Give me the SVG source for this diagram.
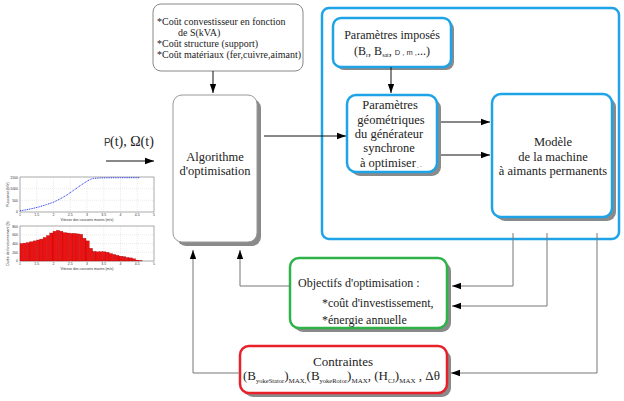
<svg xmlns="http://www.w3.org/2000/svg" width="624" height="401" viewBox="0 0 624 401">
<style>
.t{font-family:"Liberation Serif","Times New Roman",serif;fill:#222}
.s{font-family:"Liberation Sans",Arial,sans-serif;fill:#333}
.sh{fill:#8a8a8a}
.box{fill:#fff}
.ln{fill:none;stroke:#111;stroke-width:1}
.lg{fill:none;stroke:#777;stroke-width:1}
.grid{stroke:#bbb;stroke-width:0.3;stroke-dasharray:1 1}
.ax{fill:#fff;stroke:#555;stroke-width:0.5}
.bar{fill:#ee1111;stroke:#900;stroke-width:0.3}
.tk{font-family:"Liberation Sans",Arial,sans-serif;font-size:3.5px;fill:#333}
</style>
<defs>
<marker id="ah" viewBox="0 0 10 10" refX="10" refY="5" markerWidth="9" markerHeight="9" markerUnits="userSpaceOnUse" orient="auto">
<path d="M0,1.5 L10,5 L0,8.5 z" fill="#000"/>
</marker>
</defs>
<rect width="624" height="401" fill="#fff"/>

<!-- Big blue container -->
<g id="modele-container">
<rect x="322" y="8" width="297" height="231" rx="7" fill="none" stroke="#1ea3e6" stroke-width="2.5"/>
</g>

<!-- Cost text box -->
<g id="couts">
<rect x="153" y="4" width="150" height="67" rx="8" class="box" stroke="#888" stroke-width="1"/>
<text class="t" font-size="10" x="157" y="24.5">*Coût convestisseur en fonction</text>
<text class="t" font-size="10" x="178" y="35.5">de S(kVA)</text>
<text class="t" font-size="10" x="157" y="46.5">*Coût structure (support)</text>
<text class="t" font-size="10" x="157" y="57.5">*Coût matériaux (fer,cuivre,aimant)</text>
</g>

<!-- Algorithm box -->
<g id="algorithme">
<rect x="177" y="99" width="84" height="147" rx="9" class="sh"/>
<rect x="173" y="95" width="84" height="147" rx="9" class="box" stroke="#999" stroke-width="1"/>
<text class="t" font-size="12.5" x="215" y="160.5" text-anchor="middle">Algorithme</text>
<text class="t" font-size="12.5" x="215" y="175" text-anchor="middle">d'optimisation</text>
</g>

<!-- Paramètres imposés -->
<g id="parametres-imposes">
<rect x="336" y="21" width="118" height="49" rx="8" class="sh"/>
<rect x="333" y="18" width="118" height="49" rx="8" class="box" stroke="#1ea3e6" stroke-width="2.5"/>
<text class="t" font-size="12" x="392" y="39" text-anchor="middle">Paramètres imposés</text>
<text class="t" font-size="12" x="392" y="55" text-anchor="middle">(B<tspan font-size="6" dy="2">r</tspan><tspan dy="-2">, B</tspan><tspan font-size="6" dy="2">sat</tspan><tspan dy="-2">, </tspan><tspan class="s" font-size="7.5">D , m ,</tspan>...)</text>
</g>

<!-- Paramètres géométriques -->
<g id="parametres-geometriques">
<rect x="351" y="99" width="90" height="77" rx="9" class="sh"/>
<rect x="347" y="95" width="90" height="77" rx="9" class="box" stroke="#1ea3e6" stroke-width="2.5"/>
<text class="t" font-size="12.5" x="390" y="109" text-anchor="middle">Paramètres</text>
<text class="t" font-size="12.5" x="391" y="124" text-anchor="middle">géométriques</text>
<text class="t" font-size="12.5" x="389" y="138" text-anchor="middle">du générateur</text>
<text class="t" font-size="12.5" x="389" y="152" text-anchor="middle">synchrone</text>
<text class="t" font-size="12.5" x="391" y="166.5" text-anchor="middle">à optimiser<tspan font-size="5"> , ..</tspan></text>
</g>

<!-- Modèle -->
<g id="modele">
<rect x="496" y="98" width="120" height="123" rx="9" class="sh"/>
<rect x="492" y="94" width="120" height="123" rx="9" class="box" stroke="#1ea3e6" stroke-width="2.5"/>
<text class="t" font-size="12.5" x="553" y="146" text-anchor="middle">Modèle</text>
<text class="t" font-size="12.5" x="553" y="161" text-anchor="middle">de la machine</text>
<text class="t" font-size="12.5" x="553" y="175" text-anchor="middle">à aimants permanents</text>
</g>

<!-- Objectifs -->
<g id="objectifs">
<rect x="294" y="262" width="157" height="70" rx="9" class="sh"/>
<rect x="290" y="258" width="157" height="70" rx="9" class="box" stroke="#2db34a" stroke-width="2.5"/>
<text class="t" font-size="12" x="298" y="287">Objectifs d'optimisation :</text>
<text class="t" font-size="12" x="322" y="307">*coût d'investissement,</text>
<text class="t" font-size="12" x="322" y="324">*énergie annuelle</text>
</g>

<!-- Contraintes -->
<g id="contraintes">
<rect x="244" y="350" width="207" height="47" rx="9" class="sh"/>
<rect x="240" y="346" width="207" height="47" rx="9" class="box" stroke="#e8202a" stroke-width="2.5"/>
<text class="t" font-size="13" x="343" y="366" text-anchor="middle">Contraintes</text>
<text class="t" font-size="13" x="243" y="380">(B<tspan font-size="6.5" dy="3">yokeStator</tspan><tspan dy="-3">)</tspan><tspan font-size="7" dy="3">MAX,</tspan><tspan dy="-3">(B</tspan><tspan font-size="6.5" dy="3">yokeRotor</tspan><tspan dy="-3">)</tspan><tspan font-size="7" dy="3">MAX</tspan><tspan dy="-3">, (H</tspan><tspan font-size="6.5" dy="3">CJ</tspan><tspan dy="-3">)</tspan><tspan font-size="7" dy="3">MAX</tspan><tspan dy="-3"> , Δθ</tspan></text>
</g>

<!-- Input label -->
<g id="entree">
<text x="104" y="146"><tspan class="s" font-size="10">P</tspan><tspan class="t" font-size="14" x="110">(t), Ω(t)</tspan></text>
</g>

<!-- Connectors -->
<g id="connectors">
<line class="ln" x1="106" y1="161" x2="154" y2="161" marker-end="url(#ah)"/>
<line class="ln" x1="213" y1="71" x2="213" y2="93" marker-end="url(#ah)"/>
<line class="ln" x1="264" y1="136" x2="346" y2="136" marker-end="url(#ah)"/>
<line class="ln" x1="391" y1="67" x2="391" y2="93" marker-end="url(#ah)"/>
<line class="ln" x1="441" y1="122" x2="490" y2="122" marker-end="url(#ah)"/>
<line class="ln" x1="441" y1="155" x2="490" y2="155" marker-end="url(#ah)"/>
<polyline class="lg" points="513,233 513,286 452,286" marker-end="url(#ah)"/>
<polyline class="lg" points="547,233 547,306 452,306" marker-end="url(#ah)"/>
<polyline class="lg" points="597,233 597,373 451,373" marker-end="url(#ah)"/>
<polyline class="lg" points="290,286 240,286 240,250" marker-end="url(#ah)"/>
<polyline class="lg" points="240,373 193,373 193,250" marker-end="url(#ah)"/>
</g>

<!-- Charts (picture) -->
<g id="graphiques">
<rect class="ax" x="20" y="177" width="134" height="35"/>
<g class="grid">
<line x1="36.75" y1="177" x2="36.75" y2="212"/><line x1="53.5" y1="177" x2="53.5" y2="212"/><line x1="70.25" y1="177" x2="70.25" y2="212"/><line x1="87" y1="177" x2="87" y2="212"/><line x1="103.75" y1="177" x2="103.75" y2="212"/><line x1="120.5" y1="177" x2="120.5" y2="212"/><line x1="137.25" y1="177" x2="137.25" y2="212"/>
<line x1="20" y1="188.7" x2="154" y2="188.7"/><line x1="20" y1="200.3" x2="154" y2="200.3"/>
</g>
<polyline fill="none" stroke="#2233ee" stroke-width="1" stroke-dasharray="1 0.8" points="20,210.8 26.7,209.7 33.4,208.3 40.1,206.6 46.8,204.5 53.5,202.2 60.2,198.9 66.9,195 73.6,190.3 80.3,185.6 87,181.2 90.35,179.3 93.7,178.4 100.4,177.9 107.1,177.8 120.5,177.7 140,177.7"/>
<text class="tk" x="18" y="178.5" text-anchor="end">1500</text>
<text class="tk" x="18" y="190" text-anchor="end">1000</text>
<text class="tk" x="18" y="201.5" text-anchor="end">500</text>
<text class="tk" x="18" y="213" text-anchor="end">0</text>
<g class="tk" text-anchor="middle">
<text x="20" y="216">1</text><text x="36.75" y="216">1.5</text><text x="53.5" y="216">2</text><text x="70.25" y="216">2.5</text><text x="87" y="216">3</text><text x="103.75" y="216">3.5</text><text x="120.5" y="216">4</text><text x="137.25" y="216">4.5</text><text x="154" y="216">5</text>
</g>
<text class="tk" x="87" y="220.5" text-anchor="middle">Vitesse des courants marins (m/s)</text>
<text class="tk" transform="translate(9,194.5) rotate(-90)" text-anchor="middle">Puissance (kW)</text>

<rect class="ax" x="20" y="226" width="134" height="35"/>
<g class="grid">
<line x1="36.75" y1="226" x2="36.75" y2="261"/><line x1="53.5" y1="226" x2="53.5" y2="261"/><line x1="70.25" y1="226" x2="70.25" y2="261"/><line x1="87" y1="226" x2="87" y2="261"/><line x1="103.75" y1="226" x2="103.75" y2="261"/><line x1="120.5" y1="226" x2="120.5" y2="261"/><line x1="137.25" y1="226" x2="137.25" y2="261"/>
<line x1="20" y1="234.75" x2="154" y2="234.75"/><line x1="20" y1="243.5" x2="154" y2="243.5"/><line x1="20" y1="252.25" x2="154" y2="252.25"/>
</g>
<g class="bar">
<rect x="20" y="243.5" width="3.3" height="17.5"/>
<rect x="23.3" y="243.1" width="3.3" height="17.9"/>
<rect x="26.6" y="242.6" width="3.3" height="18.4"/>
<rect x="29.9" y="241.75" width="3.3" height="19.25"/>
<rect x="33.2" y="240.9" width="3.3" height="20.1"/>
<rect x="36.5" y="240" width="3.3" height="21"/>
<rect x="39.8" y="239.1" width="3.3" height="21.9"/>
<rect x="43.1" y="237.4" width="3.3" height="23.6"/>
<rect x="46.4" y="235.6" width="3.3" height="25.4"/>
<rect x="49.7" y="233" width="3.3" height="28"/>
<rect x="53" y="231.25" width="3.3" height="29.75"/>
<rect x="56.3" y="230.4" width="3.3" height="30.6"/>
<rect x="59.6" y="231.25" width="3.3" height="29.75"/>
<rect x="62.9" y="232.6" width="3.3" height="28.4"/>
<rect x="66.2" y="233" width="3.3" height="28"/>
<rect x="69.5" y="233.4" width="3.3" height="27.6"/>
<rect x="72.8" y="233.4" width="3.3" height="27.6"/>
<rect x="76.1" y="233.9" width="3.3" height="27.1"/>
<rect x="79.4" y="234.3" width="3.3" height="26.7"/>
<rect x="82.7" y="238.25" width="3.3" height="22.75"/>
<rect x="86" y="240.9" width="3.3" height="20.1"/>
<rect x="89.3" y="248.3" width="3.3" height="12.7"/>
<rect x="92.6" y="251.4" width="3.3" height="9.6"/>
<rect x="95.9" y="251.8" width="3.3" height="9.2"/>
<rect x="99.2" y="251.8" width="3.3" height="9.2"/>
<rect x="102.5" y="251.8" width="3.3" height="9.2"/>
<rect x="105.8" y="252.25" width="3.3" height="8.75"/>
<rect x="109.1" y="253.6" width="3.3" height="7.4"/>
<rect x="112.4" y="254.4" width="3.3" height="6.6"/>
<rect x="115.7" y="255.3" width="3.3" height="5.7"/>
<rect x="119" y="256.2" width="3.3" height="4.8"/>
<rect x="122.3" y="256.6" width="3.3" height="4.4"/>
<rect x="125.6" y="257.5" width="3.3" height="3.5"/>
<rect x="128.9" y="257.9" width="3.3" height="3.1"/>
<rect x="132.2" y="258.8" width="3.3" height="2.2"/>
<rect x="135.5" y="260.1" width="3.3" height="0.9"/>
<rect x="138.8" y="260.6" width="3.3" height="0.4"/>
</g>
<text class="tk" x="18" y="227.5" text-anchor="end">800</text>
<text class="tk" x="18" y="236" text-anchor="end">600</text>
<text class="tk" x="18" y="244.8" text-anchor="end">400</text>
<text class="tk" x="18" y="253.5" text-anchor="end">200</text>
<text class="tk" x="18" y="262" text-anchor="end">0</text>
<g class="tk" text-anchor="middle">
<text x="20" y="265">1</text><text x="36.75" y="265">1.5</text><text x="53.5" y="265">2</text><text x="70.25" y="265">2.5</text><text x="87" y="265">3</text><text x="103.75" y="265">3.5</text><text x="120.5" y="265">4</text><text x="137.25" y="265">4.5</text><text x="154" y="265">5</text>
</g>
<text class="tk" x="87" y="269.5" text-anchor="middle">Vitesse des courants marins (m/s)</text>
<text class="tk" transform="translate(9,243.5) rotate(-90)" text-anchor="middle">Durée de fonctionnement (h)</text>
</g>
</svg>
